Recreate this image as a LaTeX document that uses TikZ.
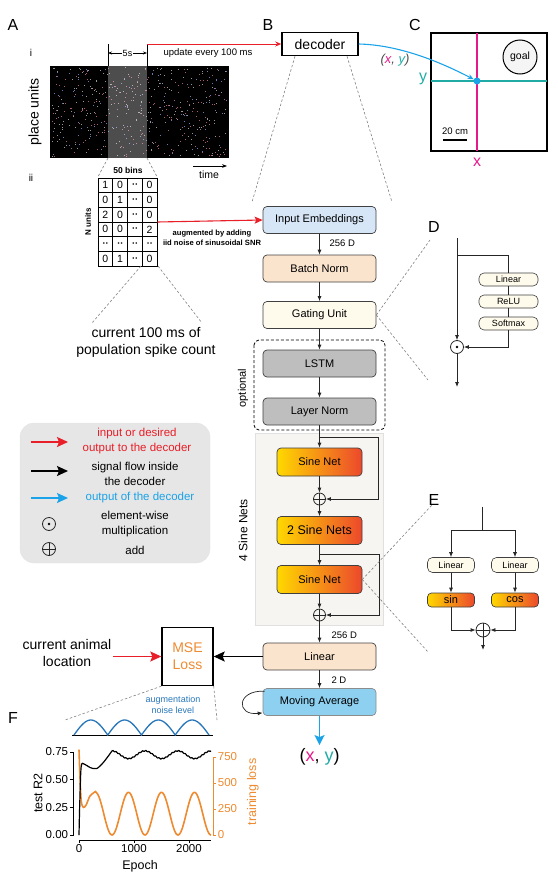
\documentclass[tikz,border=0pt]{standalone}
\usepackage{fontspec}
\setmainfont{Liberation Sans}
\usetikzlibrary{arrows.meta,calc,positioning}

\definecolor{embedc}{RGB}{214,230,246}
\definecolor{peachc}{RGB}{251,228,206}
\definecolor{creamc}{RGB}{255,251,236}
\definecolor{lstmc}{RGB}{190,190,190}
\definecolor{movc}{RGB}{142,208,240}
\definecolor{sinL}{RGB}{255,216,0}
\definecolor{sinR}{RGB}{236,72,44}
\definecolor{legc}{RGB}{230,230,230}
\definecolor{boxbg}{RGB}{246,245,242}
\definecolor{inred}{RGB}{232,30,40}
\definecolor{outblue}{RGB}{26,163,232}
\definecolor{lossor}{RGB}{238,138,48}
\definecolor{magx}{RGB}{228,26,138}
\definecolor{tealy}{RGB}{32,172,165}
\definecolor{noiseb}{RGB}{40,118,186}
\definecolor{dotw}{RGB}{150,150,150}
\definecolor{dotp}{RGB}{170,90,115}
\definecolor{dotb}{RGB}{110,120,180}

\newcommand{\fsz}[2]{\fontsize{#1}{#2}\selectfont}
\newcommand{\dd}{{\fsz{6}{7}\textbullet\,\textbullet}}

\tikzset{
  blk/.style={draw=black!75, line width=0.7pt, rounded corners=4pt, minimum width=113pt,
    minimum height=27pt, inner sep=0pt, font=\fsz{11}{13}},
  sinenet/.style={blk, minimum width=85pt, minimum height=28pt, left color=sinL, right color=sinR},
  flow/.style={-{Latex[length=5pt,width=4pt]}, line width=0.8pt, black!85},
  link/.style={line width=0.8pt, black!85},
  zoomln/.style={gray, line width=0.6pt, dash pattern=on 2.5pt off 2pt},
  plusc/.style={circle, draw=black!85, line width=0.8pt, minimum size=12pt, inner sep=0pt,
    path picture={\draw[line width=0.8pt] (path picture bounding box.north) -- (path picture bounding box.south)
      (path picture bounding box.west) -- (path picture bounding box.east);}},
  odotc/.style={circle, draw=black!85, line width=0.8pt, minimum size=13pt, inner sep=0pt,
    path picture={\fill (path picture bounding box.center) circle (1.4pt);}},
  pill/.style={draw=black!75, line width=0.6pt, rounded corners=5pt, fill=creamc, minimum width=59pt,
    minimum height=13pt, inner sep=0pt, font=\fsz{9}{10}},
  bigar/.style={-{Stealth[length=11pt,width=10pt,inset=2pt]}, line width=1.3pt},
  lab/.style={font=\fsz{16}{18}},
}

\begin{document}
\begin{tikzpicture}[x=1pt,y=-1pt]
\useasboundingbox (0,0) rectangle (557,878);

% panel letters
\node[lab] (labA) at (13,25) {A};
\node[lab] (labB) at (268,25) {B};
\node[lab] (labC) at (415,25) {C};
\node[lab] (labD) at (434,227) {D};
\node[lab] (labE) at (434,500) {E};
\node[lab] (labF) at (13,718) {F};

%A i: spike raster
\node[font=\fsz{10}{11}] (li) at (31,53) {i};
\node[font=\fsz{10}{11}] (lii) at (31,178) {ii};
\fill[black] (50,66) rectangle (229,158);
\pgfmathsetseed{11}
\foreach \k in {1,...,240} {\fill[dotw] ({51+176*rnd},{67+89*rnd}) rectangle ++(0.9,0.7);}
\foreach \k in {1,...,200} {\fill[dotp] ({51+176*rnd},{67+89*rnd}) rectangle ++(0.9,0.7);}
\foreach \k in {1,...,110} {\fill[dotb] ({51+176*rnd},{67+89*rnd}) rectangle ++(0.9,0.7);}
\fill[white, opacity=0.3] (108,66) rectangle (147,158);
\coordinate (wL) at (108,44);
\coordinate (wR) at (147,44);
\draw[line width=0.8pt] (wL) -- (108,66) (wR) -- (147,66);
\node[font=\fsz{9}{10}, inner sep=1pt] (fives) at (127.5,53) {5s};
\draw[-{Stealth[length=4pt]}, line width=0.7pt] (fives.west) -- (108,53);
\draw[-{Stealth[length=4pt]}, line width=0.7pt] (fives.east) -- (147,53);
\node[font=\fsz{14}{16}, rotate=90] (pu) at (35,112) {place units};
\node[font=\fsz{10.5}{12}] (tm) at (209,175) {time};
\coordinate (ta) at (193,166);
\coordinate (tb) at (227,166);
\draw[-{Stealth[length=5pt]}, line width=0.8pt] (ta) -- (tb);

% decoder
\node[draw, line width=1.5pt, minimum width=76pt, minimum height=23pt, font=\fsz{14}{16}] (dec) at (320,44) {decoder};
\draw[-{Stealth[length=6pt,width=5pt]}, inred, line width=0.9pt] (wR) -- (dec.west);
\node[font=\fsz{9.5}{11}] (upd) at (208,53) {update every 100 ms};

%A ii: count grid
\node[draw, line width=0.9pt, minimum width=59pt, minimum height=88pt, inner sep=0pt] (grid) at (127.5,222) {};
\foreach \c in {1,2,3} \draw[line width=0.8pt] (98+14.75*\c,178) -- ++(0,88);
\foreach \r in {1,...,5} \draw[line width=0.8pt] (98,178+14.67*\r) -- ++(59,0);
\foreach \row [count=\r] in {{1,0,\dd,0},{0,1,\dd,0},{2,0,\dd,0},{0,0,\dd,2},{\dd,\dd,\dd,\dd},{0,1,\dd,0}}
  \foreach \v [count=\c] in \row
    \node[font=\fsz{10.5}{11}, inner sep=0pt] (cell-\r-\c) at ({98+14.75*(\c-0.5)},{178+14.67*(\r-0.5)}) {\v};
\node[font=\bfseries\fsz{8.5}{9}] (bins) at (128,170) {50 bins};
\node[font=\bfseries\fsz{8}{9}, rotate=90] (nun) at (88,222) {N units};
\coordinate (hl) at (108,158);
\coordinate (hr) at (147,158);
\draw[zoomln] (hl) -- (grid.north west);
\draw[zoomln] (hr) -- (grid.north east);
\coordinate (gb1) at (141,266);
\coordinate (gb2) at (158,266);
\coordinate (gt1) at (92,323);
\coordinate (gt2) at (202,323);
\draw[zoomln] (gb1) -- (gt1);
\draw[zoomln] (gb2) -- (gt2);
\node[align=center, font=\fsz{14}{17}] (cur) at (146,342) {current 100 ms of\\population spike count};

% B: backgrounds
\fill[boxbg] (255,433) rectangle (383,625);
\draw[black!12] (255,433) rectangle (383,625);
\draw[line width=0.8pt, dash pattern=on 3pt off 2pt, rounded corners=5pt] (254,340) rectangle (385,430);
\node[font=\fsz{11}{12}, rotate=90] (opt) at (243,388) {optional};
\node[font=\fsz{12}{13}, rotate=90] (four) at (243,530) {4 Sine Nets};

% B: blocks
\node[blk, fill=embedc] (emb) at (319.5,220) {Input Embeddings};
\node[blk, fill=peachc] (bn) at (319.5,268.5) {Batch Norm};
\node[blk, fill=creamc] (gate) at (319.5,315) {Gating Unit};
\node[blk, fill=lstmc] (lstm) at (319.5,363.5) {LSTM};
\node[blk, fill=lstmc] (ln) at (319.5,411.5) {Layer Norm};
\node[sinenet] (sn1) at (319.5,462) {Sine Net};
\node[plusc] (p1) at (319.5,499) {};
\node[sinenet, font=\fsz{12.5}{14}] (sn2) at (319.5,530.5) {2 Sine Nets};
\node[sinenet] (sn3) at (319.5,579.5) {Sine Net};
\node[plusc] (p2) at (319.5,615) {};
\node[blk, fill=peachc] (lin) at (319.5,656.5) {Linear};
\node[blk, fill=movc, draw=black!45] (mov) at (319.5,702) {Moving Average};
\node[font=\fsz{18}{20}] (out) at (319.5,757) {(\textcolor{magx}{x}, \textcolor{tealy}{y})};

% B: flow
\draw[flow] (emb) -- (bn);
\draw[flow] (bn) -- (gate);
\draw[flow] (gate) -- (lstm);
\draw[flow] (lstm) -- (ln);
\draw[flow] (ln) -- (sn1);
\draw[flow] (sn1) -- (p1);
\draw[flow] (p1) -- (sn2);
\draw[flow] (sn2) -- (sn3);
\draw[flow] (sn3) -- (p2);
\draw[flow] (p2) -- (lin);
\draw[flow] (lin) -- (mov);
\coordinate (br1) at (319.5,437);
\coordinate (sk1) at (378,437);
\draw[flow] (br1) -- (sk1) |- (p1.east);
\coordinate (br2) at (319.5,554);
\coordinate (sk2) at (379,554);
\draw[flow] (br2) -- (sk2) |- (p2.east);
\node[font=\fsz{9.5}{10}, anchor=west] (dima) at (326,243.5) {256 D};
\node[font=\fsz{9.5}{10}, anchor=west] (dimb) at (328,635) {256 D};
\node[font=\fsz{9.5}{10}, anchor=west] (dimc) at (328,680) {2 D};
\draw[-{Latex[length=5pt,width=4pt]}, line width=0.7pt, black!85] ($(mov.north west)+(2,3)$) .. controls (236,690) and (236,716) .. ($(mov.south west)+(0,-3)$);
\draw[-{Stealth[length=10pt,width=10pt,inset=2pt]}, outblue, line width=1.8pt] (mov.south) -- (out.north);

% input to decoder
\draw[-{Stealth[length=8pt,width=7pt,inset=1.5pt]}, inred, line width=1.1pt] (grid.east) -- (emb.west);
\node[align=center, font=\bfseries\fsz{7.6}{10.5}] (aug) at (212,238) {augmented by adding\\iid noise of sinusoidal SNR};

% zoom lines
\coordinate (zd1) at (252,202);
\coordinate (zd2) at (392,202);
\draw[zoomln] ([xshift=-25pt]dec.south) -- (zd1);
\draw[zoomln] ([xshift=27pt]dec.south) -- (zd2);
\coordinate (zg1) at (430,240);
\coordinate (zg2) at (428,380);
\draw[zoomln] (gate.east) -- (zg1);
\draw[zoomln] (gate.east) -- (zg2);
\coordinate (zs1) at (432,505);
\coordinate (zs2) at (428,652);
\draw[zoomln] (sn3.east) -- (zs1);
\draw[zoomln] (sn3.east) -- (zs2);

% C: arena
\draw[line width=1.3pt] (431,33) rectangle (547,151);
\coordinate (cxt) at (477,33);
\coordinate (cxb) at (477,151);
\coordinate (cyl) at (431,81);
\coordinate (cyr) at (547,81);
\draw[magx, line width=1.2pt] (cxt) -- (cxb);
\draw[tealy, line width=1.2pt] (cyl) -- (cyr);
\node[circle, fill=outblue, inner sep=0pt, minimum size=7pt] (pos) at (477,81) {};
\node[circle, draw, line width=1pt, fill=gray!8, minimum size=34pt, inner sep=0pt, font=\fsz{10.5}{11}] (goal) at (520,57) {goal};
\node[font=\fsz{9.5}{10}] (scl) at (455,131) {20 cm};
\coordinate (sba) at (443,140);
\coordinate (sbb) at (467,140);
\draw[line width=1.3pt] (sba) -- (sbb);
\node[text=magx, font=\fsz{16}{17}] (xl) at (477,162) {x};
\node[text=tealy, font=\fsz{16}{17}] (yl) at (423,79) {y};
\draw[outblue, line width=1.1pt, -{Stealth[length=6pt,width=5pt]}] (dec.east) .. controls (400,45) and (440,62) .. (pos);
\node[font=\itshape\fsz{13}{14}, text=black!70] (xyl) at (395,60) {(\textcolor{magx}{x}, \textcolor{tealy}{y})};

% D: gating unit
\coordinate (dtop) at (457,238);
\coordinate (dbr) at (457,255);
\coordinate (dend) at (457,387);
\node[odotc] (dmul) at (457,347) {};
\node[pill] (dlin) at (508.5,279.5) {Linear};
\node[pill] (drelu) at (508.5,301.5) {ReLU};
\node[pill] (dsoft) at (508.5,323.5) {Softmax};
\draw[flow] (dtop) -- (dmul.north);
\draw[flow] (dmul.south) -- (dend);
\draw[link] (dbr) -| (dlin.north);
\draw[link] (dlin) -- (drelu);
\draw[link] (drelu) -- (dsoft);
\draw[flow] (dsoft.south) |- (dmul.east);

% E: sine net
\coordinate (etop) at (482,507);
\coordinate (ebr) at (482,530);
\coordinate (eend) at (483,650);
\node[pill, minimum width=47pt, minimum height=15pt] (elinl) at (451,565) {Linear};
\node[pill, minimum width=47pt, minimum height=15pt] (elinr) at (515,565) {Linear};
\node[sinenet, minimum width=47pt, minimum height=14pt, font=\fsz{11}{12}] (esin) at (451,600) {sin};
\node[sinenet, minimum width=47pt, minimum height=14pt, font=\fsz{11}{12}] (ecos) at (515,600) {cos};
\node[plusc, minimum size=14pt] (eadd) at (483,630) {};
\draw[link] (etop) -- (ebr);
\draw[flow] (ebr) -| (elinl.north);
\draw[flow] (ebr) -| (elinr.north);
\draw[flow] (elinl) -- (esin);
\draw[flow] (elinr) -- (ecos);
\draw[flow] (esin.south) |- (eadd.west);
\draw[flow] (ecos.south) |- (eadd.east);
\draw[flow] (eadd.south) -- (eend);

% legend
\node[draw=black!10, fill=legc, rounded corners=14pt, minimum width=190pt, minimum height=140pt] (leg) at (115,493) {};
\coordinate (lr1) at (31,442);
\coordinate (lr2) at (68,442);
\coordinate (lk1) at (31,471);
\coordinate (lk2) at (68,471);
\coordinate (lb1) at (31,498);
\coordinate (lb2) at (68,498);
\draw[bigar, inred] (lr1) -- (lr2);
\draw[bigar, black] (lk1) -- (lk2);
\draw[bigar, outblue] (lb1) -- (lb2);
\node[text=inred, align=center, font=\fsz{11.5}{15}] (lt1) at (137,441) {input or desired\\output to the decoder};
\node[align=center, font=\fsz{11.5}{14.5}] (lt2) at (135,474) {signal flow inside\\the decoder};
\node[text=outblue, font=\fsz{11.5}{12}] (lt3) at (140,498) {output of the decoder};
\node[odotc] (lgo) at (49,524) {};
\node[align=center, font=\fsz{11.5}{15}] (lt4) at (135,524.5) {element-wise\\multiplication};
\node[plusc, minimum size=13pt] (lgp) at (49,549) {};
\node[font=\fsz{11.5}{12}] (lt5) at (135,550) {add};

% loss
\node[draw, line width=1.4pt, minimum width=51pt, minimum height=58pt, align=center, font=\fsz{14}{17}, text=lossor] (mse) at (187.5,656.5) {MSE\\Loss};
\draw[bigar, black] (lin.west) -- (mse.east);
\node[align=center, font=\fsz{14}{17}] (loc) at (67,653) {current animal\\location};
\coordinate (locar) at (113,656.5);
\draw[bigar, inred] (locar) -- (mse.west);
\coordinate (fL) at (65,720);
\coordinate (fR) at (217,720);
\draw[zoomln] (mse.south west) -- (fL);
\draw[zoomln] (mse.south east) -- (fR);

%F: noise level
\draw[line width=1pt] (72,735) -- (213,735);
\draw[noiseb, line width=1.3pt] plot[domain=0:720, samples=121] ({74+\x/720*135},{735-15*abs(sin(\x))});
\node[text=noiseb, align=center, font=\fsz{9}{11}] (noisel) at (173,705) {augmentation\\noise level};

%F: axes
\draw[line width=0.9pt] (73,752) -- (73,836);
\foreach \v/\t [count=\i] in {0/0.00,0.25/0.25,0.5/0.50,0.75/0.75}
  \draw[line width=0.8pt] (73,{835-110.7*\v}) -- ++(-3,0) node[left, font=\fsz{11.5}{12}, inner sep=1.5pt] (ty\i) {\t};
\draw[line width=0.9pt] (79,840) -- (211,840);
\foreach \e [count=\i] in {0,1000,2000}
  \draw[line width=0.8pt] ({79+0.055*\e},840) -- ++(0,3) node[below, font=\fsz{11.5}{12}, inner sep=1.5pt] (tx\i) {\e};
\draw[lossor, line width=0.9pt] (213,757) -- (213,836);
\foreach \l [count=\i] in {0,250,500,750}
  \draw[lossor, line width=0.8pt] (213,{835-0.104*\l}) -- ++(3,0) node[right, text=lossor, font=\fsz{11.5}{12}, inner sep=1.5pt] (tl\i) {\l};
\node[rotate=90, font=\fsz{12.5}{13}] (r2l) at (38,793) {test R2};
\node[font=\fsz{12.5}{13}] (epl) at (140,866) {Epoch};
\node[rotate=90, text=lossor, font=\fsz{12.5}{13}] (tll) at (253,792) {training loss};

%F: curves
\draw[lossor, line width=1.6pt] plot[smooth] coordinates {(79,749.7) (79.8,772.6) (81.2,800.7) (83.4,807.4) (86.2,804.8) (90,796) (95.5,791.5)}
  -- plot[domain=320:2400, samples=140] ({79+0.055*\x},{835-0.104*(205+205*cos(0.6*(\x-300)))});
\draw[black, line width=1.2pt] plot[smooth] coordinates {(79,835) (79.8,801.8) (81.2,766.4) (84.5,764.2) (90,767.5) (96.6,768.6) (103.75,762) (112,750.9)}
  -- plot[domain=620:2400, samples=150] ({79+0.055*\x},{835-110.7*(0.725+0.035*cos(0.6*(\x-600))+0.004*sin(6*\x))});

\end{tikzpicture}
\end{document}
